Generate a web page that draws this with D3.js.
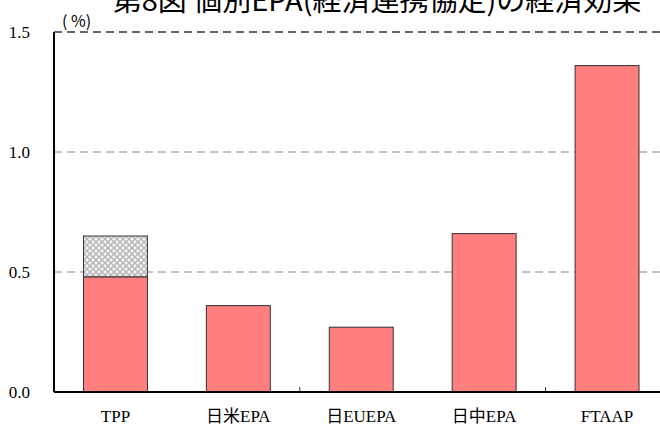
<!DOCTYPE html>
<html>
<head>
<meta charset="utf-8">
<script src="https://cdn.jsdelivr.net/npm/d3@7"></script>
<style>
  body { margin: 0; background: #fff; }
  svg { display: block; }
</style>
</head>
<body>
<div id="chart"></div>
<script>
const categories = ["TPP", "日米EPA", "日EUEPA", "日中EPA", "FTAAP"]
const baseValues = [0.48, 0.36, 0.27, 0.66, 1.36]
const extraValues = [0.17, 0, 0, 0, 0]   // TPP hatched part on top
const yTicks = [0.0, 0.5, 1.0, 1.5]
const titleText = "第8図 個別EPA(経済連携協定)の経済効果"

const W = 660, H = 426
const margin = {top: 32, left: 54, bottom: 34}
const plotW = 614.5
const plotH = H - margin.top - margin.bottom

const svg = d3.select("#chart").append("svg")
    .attr("width", W)
    .attr("height", H)

const defs = svg.append("defs")
const pat = defs.append("pattern")
    .attr("id", "hatch")
    .attr("patternUnits", "userSpaceOnUse")
    .attr("width", 6).attr("height", 6)
pat.append("rect").attr("width", 6).attr("height", 6).attr("fill", "#f2f2f2")
pat.append("path")
    .attr("d", "M0,0 L6,6 M6,0 L0,6")
    .attr("stroke", "#b5b5b5")
    .attr("stroke-width", 1.3)

const g = svg.append("g")
    .attr("transform", `translate(${margin.left},${margin.top})`)

const x = d3.scaleBand()
    .domain(categories)
    .range([0, plotW])
    .paddingInner(0.48)
    .paddingOuter(0.24)

const y = d3.scaleLinear()
    .domain([0, 1.5])
    .range([plotH, 0])

// grid
g.selectAll(".grid")
    .data(yTicks.filter(d => d > 0))
    .join("line")
    .attr("x1", 0).attr("x2", plotW)
    .attr("y1", d => y(d)).attr("y2", d => y(d))
    .attr("stroke", d => d === 1.5 ? "#333" : "#888")
    .attr("stroke-width", d => d === 1.5 ? 1.4 : 1)
    .attr("stroke-dasharray", "8,5")

// bars
g.selectAll(".bar")
    .data(categories)
    .join("rect")
    .attr("x", d => x(d))
    .attr("width", x.bandwidth())
    .attr("y", (d, i) => y(baseValues[i]))
    .attr("height", (d, i) => y(0) - y(baseValues[i]))
    .attr("fill", "#ff7f7f")
    .attr("stroke", "#333")
    .attr("stroke-width", 1)

g.selectAll(".extra")
    .data(categories.filter((d, i) => extraValues[i] > 0))
    .join("rect")
    .attr("x", d => x(d))
    .attr("width", x.bandwidth())
    .attr("y", d => {
        const i = categories.indexOf(d)
        return y(baseValues[i] + extraValues[i])
    })
    .attr("height", d => {
        const i = categories.indexOf(d)
        return y(baseValues[i]) - y(baseValues[i] + extraValues[i])
    })
    .attr("fill", "url(#hatch)")
    .attr("stroke", "#333")
    .attr("stroke-width", 1)

// small ticks at some category boundaries
const step = x.step()
g.selectAll(".btick")
    .data([2, 4])
    .join("line")
    .attr("x1", d => d * step).attr("x2", d => d * step)
    .attr("y1", plotH).attr("y2", plotH - 5)
    .attr("stroke", "#333")

// axes lines
g.append("line")
    .attr("x1", 0).attr("x2", 0)
    .attr("y1", 0).attr("y2", plotH)
    .attr("stroke", "#000").attr("stroke-width", 2)
g.append("line")
    .attr("x1", 0).attr("x2", plotW)
    .attr("y1", plotH).attr("y2", plotH)
    .attr("stroke", "#000").attr("stroke-width", 2)

// y tick labels
g.selectAll(".ylab")
    .data(yTicks)
    .join("text")
    .attr("x", -24)
    .attr("y", d => y(d))
    .attr("dy", "0.35em")
    .attr("text-anchor", "end")
    .attr("font-family", "'Liberation Serif', serif")
    .attr("font-size", 17)
    .text(d => d.toFixed(1))

// category labels
g.selectAll(".xlab")
    .data(categories)
    .join("text")
    .attr("x", d => x(d) + x.bandwidth() / 2)
    .attr("y", plotH + 30)
    .attr("text-anchor", "middle")
    .attr("font-family", "'Liberation Serif', 'Noto Sans CJK JP', serif")
    .attr("font-size", 17)
    .text(d => d)

// unit
svg.append("text")
    .attr("x", 62)
    .attr("y", 27)
    .attr("font-family", "'Noto Sans CJK JP', sans-serif")
    .attr("font-size", 16)
    .text("( %)")

// title, partly cut off at top like the source
svg.append("text")
    .attr("x", 377)
    .attr("y", 11)
    .attr("text-anchor", "middle")
    .attr("font-family", "'Noto Sans CJK JP', sans-serif")
    .attr("font-size", 29)
    .text(titleText)
</script>
</body>
</html>
